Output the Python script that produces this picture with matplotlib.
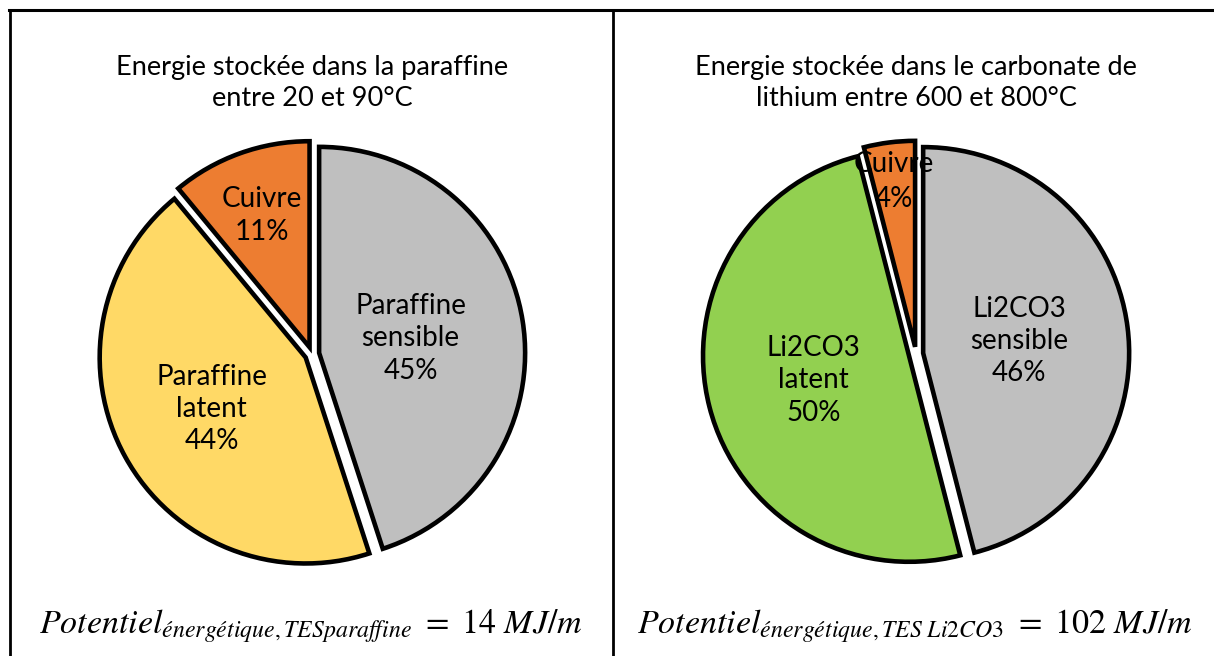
import matplotlib
matplotlib.use('Agg')
import matplotlib.pyplot as plt
import numpy as np

plt.rcParams['font.family'] = ['Lato', 'DejaVu Sans']
plt.rcParams['mathtext.fontset'] = 'stix'

# Data for the two storage systems
left_title = 'Energie stockée dans la paraffine\nentre 20 et 90°C'
left_names = ['Paraffine\nsensible', 'Paraffine\nlatent', 'Cuivre']
left_pct = [45, 44, 11]
left_colors = ['#BFBFBF', '#FFD966', '#ED7D31']
left_formula = r'$Potentiel_{énergétique,TESparaffine}\ =\ 14\ MJ/m$'

right_title = 'Energie stockée dans le carbonate de\nlithium entre 600 et 800°C'
right_names = ['Li2CO3\nsensible', 'Li2CO3\nlatent', 'Cuivre']
right_pct = [46, 50, 4]
right_colors = ['#BFBFBF', '#92D050', '#ED7D31']
right_formula = r'$Potentiel_{énergétique,TES\ Li2CO3}\ =\ 102\ MJ/m$'

W, H = 1214, 656
fig = plt.figure(figsize=(W / 100, H / 100), dpi=100)

# table-like frame: top line, left line, middle divider
frame = fig.add_axes([0, 0, 1, 1])
frame.set_xlim(0, W)
frame.set_ylim(H, 0)
frame.axis('off')
frame.plot([9, W], [10, 10], color='black', lw=2.2)
frame.plot([9.5, 9.5], [10, H], color='black', lw=2)
frame.plot([613, 613], [10, H], color='black', lw=2)


def draw_pie(cx, cy, pct, names, colors, label_dist, spacing):
    r_px = 206
    half = 232
    ax = fig.add_axes([(cx - half) / W, (H - cy - half) / H, 2 * half / W, 2 * half / H])
    lim = half / r_px
    wedges, _ = ax.pie(pct, colors=colors, startangle=90, counterclock=False,
                       explode=[0.035] * len(pct),
                       wedgeprops=dict(edgecolor='black', linewidth=3.3))
    ax.set_xlim(-lim, lim)
    ax.set_ylim(-lim, lim)
    ax.set_aspect('equal')
    for w, name, p, d, ls in zip(wedges, names, pct, label_dist, spacing):
        ang = np.deg2rad((w.theta1 + w.theta2) / 2)
        x, y = w.center
        ax.text(x + d * np.cos(ang), y + d * np.sin(ang), f'{name}\n{p}%',
                ha='center', va='center', fontsize=20, linespacing=ls)
    return ax


draw_pie(312, 354, left_pct, left_names, left_colors, [0.45, 0.52, 0.68], [1.3, 1.3, 1.3])
draw_pie(916, 354, right_pct, right_names, right_colors, [0.47, 0.48, 0.81], [1.3, 1.3, 1.45])

frame.text(312, 83, left_title, ha='center', va='center', fontsize=19.5, linespacing=1.33)
frame.text(916, 83, right_title, ha='center', va='center', fontsize=19.5, linespacing=1.33)

frame.text(311, 626, left_formula, ha='center', va='center', fontsize=24.5)
frame.text(915, 626, right_formula, ha='center', va='center', fontsize=24.5)

fig.savefig('out.png', dpi=100)
